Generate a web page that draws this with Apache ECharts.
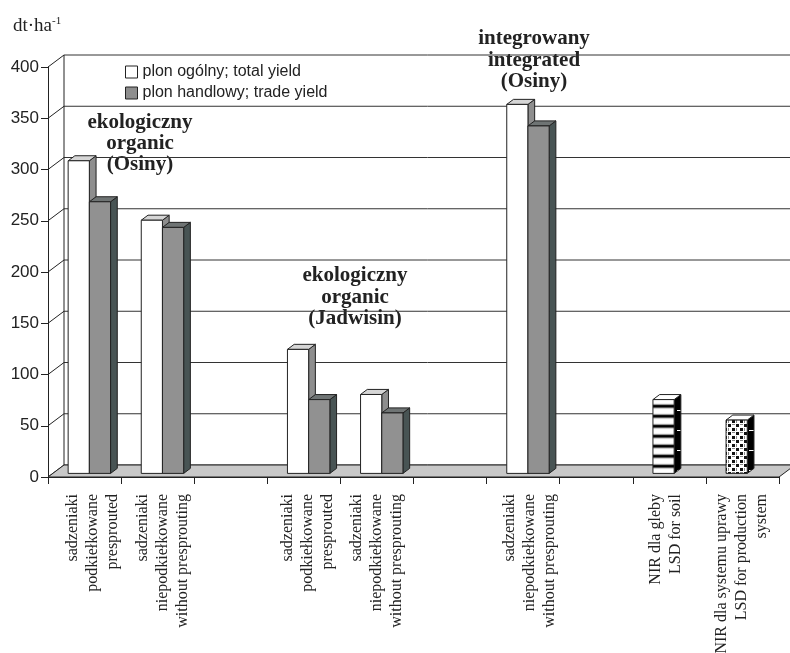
<!DOCTYPE html>
<html>
<head>
<meta charset="utf-8">
<script src="https://cdn.jsdelivr.net/npm/echarts@6/dist/echarts.min.js"></script>
<style>
  html, body { margin: 0; padding: 0; background: #fff; }
  #chart { width: 790px; height: 653px; }
</style>
</head>
<body>
<div id="chart"></div>
<script>
// Potato yield by cultivation system and seed-tuber preparation (dt/ha)
const categories = [
  'sadzeniaki\npodkiełkowane\npresprouted',
  'sadzeniaki\nniepodkiełkowane\nwithout presprouting',
  '',
  'sadzeniaki\npodkiełkowane\npresprouted',
  'sadzeniaki\nniepodkiełkowane\nwithout presprouting',
  '',
  'sadzeniaki\nniepodkiełkowane\nwithout presprouting',
  '',
  'NIR dla gleby\nLSD for soil',
  'NIR dla systemu uprawy\nLSD for production\nsystem'
];
const seriesNames = ['plon ogólny; total yield', 'plon handlowy; trade yield'];
// [category index, value]
const totalYield = [[0, 305], [1, 247], [3, 121], [4, 77], [6, 360]];
const tradeYield = [[0, 265], [1, 240], [3, 72], [4, 59], [6, 339]];
const lsdValues = [[8, 72], [9, 52]];
const yTicks = [0, 50, 100, 150, 200, 250, 300, 350, 400];
const groupNotes = [
  'ekologiczny\norganic\n(Osiny)',
  'ekologiczny\norganic\n(Jadwisin)',
  'integrowany\nintegrated\n(Osiny)'
];

// sideways nudge (px, rightwards) of each rotated category label
const labelShift = [8, 5, 0, 4, 0, 0, 7, 0, -4, -1];

// pseudo-3D geometry
const WALL_DX = 16, WALL_DY = -12;
const FRONT = 0.3, DEPTH = 0.42;
const BAR_FRAC = 0.29;
const INK = '#222';

function makeCanvas(w, h, draw) {
  const c = document.createElement('canvas');
  c.width = w; c.height = h;
  draw(c.getContext('2d'));
  return c;
}
const stripePattern = {
  image: makeCanvas(4, 10, g => {
    const rows = ['#fff', '#fff', '#fff', '#f0f0f0', '#999', '#111', '#000', '#555', '#ccc', '#fafafa'];
    rows.forEach((col, i) => { g.fillStyle = col; g.fillRect(0, i, 4, 1); });
  }),
  repeat: 'repeat'
};
const checkerPattern = {
  image: makeCanvas(8, 8, g => {
    g.fillStyle = '#fff'; g.fillRect(0, 0, 8, 8);
    g.fillStyle = '#111';
    g.fillRect(0, 0, 3, 3);
    g.fillRect(4, 4, 3, 3);
    g.fillStyle = '#888';
    g.fillRect(4, 0, 3, 1);
    g.fillRect(0, 4, 1, 3);
  }),
  repeat: 'repeat'
};
const sidePattern = {
  image: makeCanvas(9, 20, g => {
    g.fillStyle = '#000'; g.fillRect(0, 0, 9, 20);
    g.fillStyle = '#fff'; g.fillRect(2, 10, 5, 1);
  }),
  repeat: 'repeat'
};

const barFaces = [
  { front: '#ffffff', top: '#d6d6d6', side: '#8e8e8e' },
  { front: '#919191', top: '#6f7474', side: '#485454' }
];
const lsdFaces = [
  { front: stripePattern, top: '#ffffff', side: sidePattern },
  { front: checkerPattern, top: '#ffffff', side: sidePattern }
];

const serif = 'Liberation Serif, Times New Roman, serif';
const sans = 'Liberation Sans, Arial, sans-serif';

function bar3D(slot, facesFor) {
  return function (params, api) {
    const idx = api.value(0), val = api.value(1);
    const top = api.coord([idx, val]);
    const base = api.coord([idx, 0]);
    const band = api.size([1, 0])[0];
    const bw = band * BAR_FRAC;
    const fdx = WALL_DX * FRONT, fdy = WALL_DY * FRONT;
    const ddx = WALL_DX * DEPTH, ddy = WALL_DY * DEPTH;
    const x = top[0] - bw + slot * bw + fdx;
    const yt = top[1] + fdy, yb = base[1] + fdy;
    const f = facesFor(params.dataIndex);
    const line = { stroke: INK, lineWidth: 1 };
    return {
      type: 'group',
      children: [
        { type: 'polygon', shape: { points: [[x + bw, yt], [x + bw + ddx, yt + ddy], [x + bw + ddx, yb + ddy], [x + bw, yb]] },
          style: Object.assign({ fill: f.side }, line) },
        { type: 'polygon', shape: { points: [[x, yt], [x + bw, yt], [x + bw + ddx, yt + ddy], [x + ddx, yt + ddy]] },
          style: Object.assign({ fill: f.top }, line) },
        { type: 'rect', shape: { x: x, y: yt, width: bw, height: yb - yt },
          style: Object.assign({ fill: f.front }, line) }
      ]
    };
  };
}

function walls(params, api) {
  const cs = params.coordSys;
  const x0 = cs.x, x1 = cs.x + cs.width;
  const children = [];
  yTicks.forEach(v => {
    const y = api.coord([0, v])[1];
    children.push({ type: 'line', shape: { x1: x0 + WALL_DX, y1: y + WALL_DY, x2: x1 + WALL_DX, y2: y + WALL_DY },
      style: { stroke: '#333', lineWidth: 1 } });
    children.push({ type: 'line', shape: { x1: x0, y1: y, x2: x0 + WALL_DX, y2: y + WALL_DY },
      style: { stroke: INK, lineWidth: 1 } });
  });
  const yTop = api.coord([0, yTicks[yTicks.length - 1]])[1];
  const y0 = api.coord([0, 0])[1];
  children.push({ type: 'line', shape: { x1: x0 + WALL_DX, y1: yTop + WALL_DY, x2: x0 + WALL_DX, y2: y0 + WALL_DY },
    style: { stroke: INK, lineWidth: 1 } });
  children.push({ type: 'polygon',
    shape: { points: [[x0, y0], [x1, y0], [x1 + WALL_DX, y0 + WALL_DY], [x0 + WALL_DX, y0 + WALL_DY]] },
    style: { fill: '#c8c8c8', stroke: INK, lineWidth: 1 } });
  return { type: 'group', children: children };
}

// vertical category captions under the floor, reading bottom-to-top
function categoryCaption(params, api) {
  const i = api.value(0);
  const p = api.coord([i, 0]);
  return {
    type: 'text',
    x: p[0] + labelShift[i],
    y: p[1] + 17,
    rotation: Math.PI / 2,
    style: {
      text: categories[i],
      font: '16px ' + serif,
      lineHeight: 20,
      fill: INK,
      align: 'right',
      verticalAlign: 'middle'
    }
  };
}

const chart = echarts.init(document.getElementById('chart'), null, { renderer: 'canvas' });

chart.setOption({
  backgroundColor: '#fff',
  animation: false,
  grid: { left: 48, right: 11, top: 67, bottom: 176, outerBoundsMode: 'none' },
  legend: {
    orient: 'vertical',
    left: 120, top: 59,
    itemWidth: 12, itemHeight: 12, itemGap: 5,
    textStyle: { fontFamily: sans, fontSize: 16, color: INK },
    data: [
      { name: seriesNames[0], icon: 'rect', itemStyle: { color: '#fff', borderColor: INK, borderWidth: 1 } },
      { name: seriesNames[1], icon: 'rect', itemStyle: { color: '#8e8e8e', borderColor: INK, borderWidth: 1 } }
    ]
  },
  xAxis: {
    type: 'category',
    data: categories,
    z: 5,
    axisLine: { lineStyle: { color: INK, width: 1 } },
    axisTick: { show: true, interval: 0, length: 7, lineStyle: { color: INK } },
    axisLabel: { show: false, interval: 0 },
    splitLine: { show: false }
  },
  yAxis: {
    type: 'value', min: 0, max: 400, interval: 50,
    z: 5,
    axisLine: { show: true, lineStyle: { color: INK, width: 1 } },
    axisTick: { show: true, length: 7, lineStyle: { color: INK } },
    axisLabel: { margin: 9, fontFamily: sans, fontSize: 17, color: INK },
    splitLine: { show: false }
  },
  graphic: [
    { type: 'text', left: 13, top: 17, style: { text: 'dt·ha', font: '19px ' + serif, fill: INK } },
    { type: 'text', left: 52, top: 16, style: { text: '-1', font: '11px ' + serif, fill: INK } },
    { type: 'text', x: 140, y: 112, style: { text: groupNotes[0], font: 'bold 21px ' + serif, lineHeight: 21, align: 'center', fill: INK } },
    { type: 'text', x: 355, y: 265, style: { text: groupNotes[1], font: 'bold 21px ' + serif, lineHeight: 21.5, align: 'center', fill: INK } },
    { type: 'text', x: 534, y: 28, style: { text: groupNotes[2], font: 'bold 21px ' + serif, lineHeight: 21.5, align: 'center', fill: INK } }
  ],
  series: [
    { type: 'custom', name: 'walls', z: 1, silent: true, data: [[0, 0]], renderItem: walls },
    { type: 'custom', name: 'captions', z: 1, silent: true,
      data: categories.map((c, i) => [i, 0]), renderItem: categoryCaption },
    { type: 'custom', name: seriesNames[0], z: 2, data: totalYield,
      itemStyle: { color: '#fff', borderColor: INK },
      renderItem: bar3D(0, () => barFaces[0]) },
    { type: 'custom', name: seriesNames[1], z: 3, data: tradeYield,
      itemStyle: { color: '#8e8e8e', borderColor: INK },
      renderItem: bar3D(1, () => barFaces[1]) },
    { type: 'custom', name: 'NIR', z: 2, data: lsdValues,
      itemStyle: { color: '#000' },
      renderItem: bar3D(0, i => lsdFaces[i]) }
  ]
});
</script>
</body>
</html>
